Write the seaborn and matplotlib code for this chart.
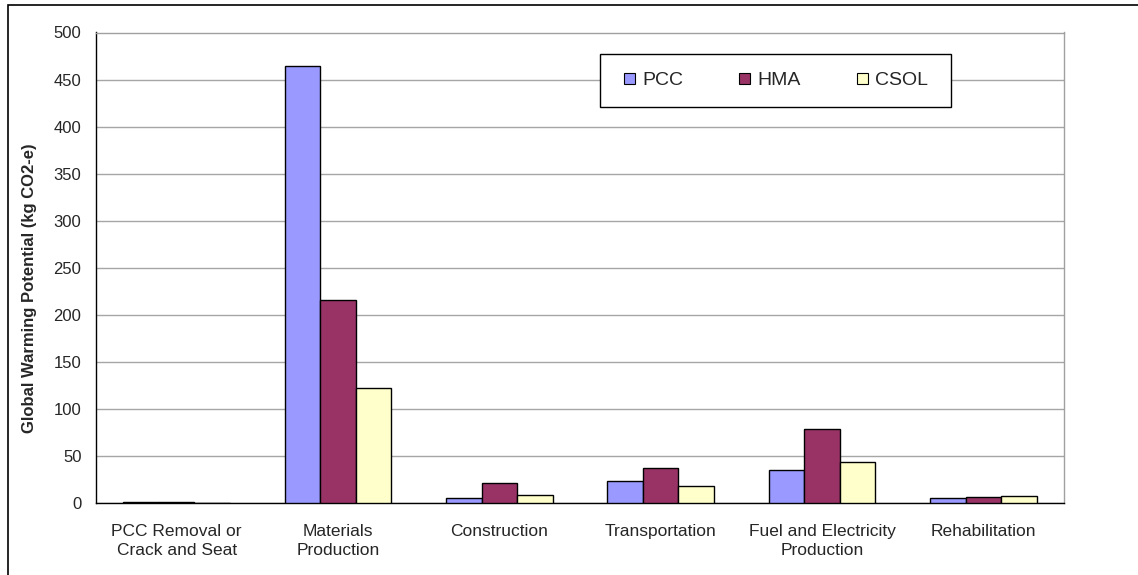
import matplotlib
matplotlib.use("Agg")
import matplotlib.pyplot as plt
import matplotlib.patches as mpatches
import seaborn as sns
import pandas as pd
import numpy as np

categories = ["PCC Removal or\nCrack and Seat", "Materials\nProduction", "Construction",
              "Transportation", "Fuel and Electricity\nProduction", "Rehabilitation"]
series = ["PCC", "HMA", "CSOL"]
pcc = [1.2, 464, 5.5, 23.5, 35.5, 5.3]
hma = [1.2, 216, 21, 37, 79, 6.7]
csol = [0, 122, 8, 18, 44, 7.7]
colors = ["#9999FF", "#993366", "#FFFFCC"]
yticks = [0, 50, 100, 150, 200, 250, 300, 350, 400, 450, 500]

rows = []
for s, vals in zip(series, [pcc, hma, csol]):
    for c, v in zip(categories, vals):
        rows.append({"category": c, "series": s, "value": v})
df = pd.DataFrame(rows)

sns.set_style("white")
plt.rcParams["font.family"] = ["Liberation Sans", "DejaVu Sans"]

W, H = 1138, 575
fig = plt.figure(figsize=(W / 100, H / 100), dpi=100)
ax = fig.add_axes([96 / W, 1 - 503 / H, (1064 - 96) / W, (503 - 32.5) / H])

sns.barplot(data=df, x="category", y="value", hue="series", order=categories,
            hue_order=series, palette=colors, edgecolor="black", linewidth=1.0,
            width=0.66, gap=0, saturation=1, ax=ax, zorder=3)

ax.set_ylim(0, 500)
ax.set_xlim(-0.5, len(categories) - 0.5)
ax.set_yticks(yticks)
ax.set_yticklabels([str(t) for t in yticks], fontsize=12)
ax.yaxis.grid(True, color="#A6A6A6", linewidth=1.0, zorder=0)
ax.set_axisbelow(True)

ax.set_xticks(range(len(categories)))
ax.set_xticklabels(categories, fontsize=12.5, linespacing=1.33)
ax.set_xticks(np.arange(-0.5, len(categories)), minor=True)
ax.tick_params(axis="x", which="major", length=0, pad=15)
ax.tick_params(axis="x", which="minor", length=5, width=1, color="black", direction="out")
ax.tick_params(axis="y", which="major", length=5, width=1, color="black", direction="out", pad=5.5)

ax.set_xlabel("")
ax.set_ylabel("Global Warming Potential (kg CO2-e)", fontsize=12, fontweight="bold")
ax.yaxis.set_label_coords((37 - 96) / (1064 - 96), (503 - 288) / (503 - 32.5))

for side in ["left", "bottom"]:
    ax.spines[side].set_color("black")
    ax.spines[side].set_linewidth(1.0)
for side in ["top", "right"]:
    ax.spines[side].set_visible(True)
    ax.spines[side].set_color("#A0A0A0")
    ax.spines[side].set_linewidth(1.0)

# legend box (frame drawn separately to get Excel-like padding)
box = mpatches.Rectangle((600 / W, 1 - 107 / H), (951 - 600) / W, (107 - 54) / H,
                         transform=fig.transFigure, facecolor="white", edgecolor="black",
                         linewidth=1.0, zorder=4, clip_on=False)
ax.add_patch(box)
handles = [mpatches.Patch(facecolor=c, edgecolor="black", linewidth=0.8) for c in colors]
leg = ax.legend(handles, series, ncol=3, loc="center",
                bbox_to_anchor=(776 / W, 1 - 81 / H), bbox_transform=fig.transFigure,
                frameon=False, fontsize=14, handlelength=0.55,
                handleheight=0.55, handletextpad=0.36, columnspacing=2.9,
                borderpad=0, borderaxespad=0)
leg.set_zorder(6)

frame = mpatches.Rectangle((8 / W, -0.1), 1.2, 1 - 5 / H + 0.1, transform=fig.transFigure,
                           fill=False, edgecolor="black", linewidth=1.2, clip_on=False)
fig.patches.append(frame)

fig.savefig("out.png", dpi=100)
